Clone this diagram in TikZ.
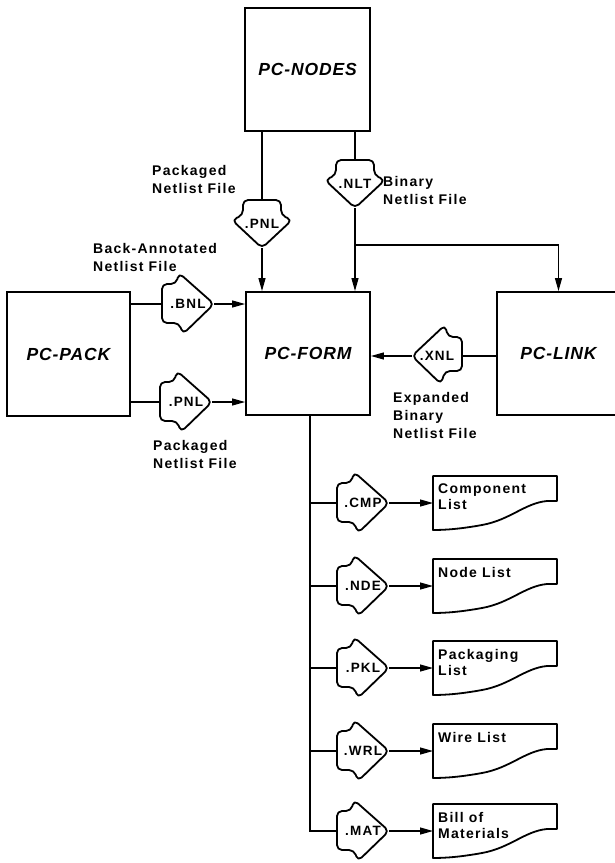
\documentclass[tikz,border=0pt]{standalone}
\usepackage{fontspec}
\newfontfamily\labfont{Liberation Sans}[LetterSpace=9]
\newfontfamily\titfont{Liberation Sans}[LetterSpace=5]
\usetikzlibrary{arrows.meta,calc}
\newcommand\fileright[3]{%
  \node[filebox,minimum width=52pt,minimum height=60pt] (#1) at (#2) {#3};
  \draw[fileline,shift={(#1.west)}] (0,-20) -- (14,-20) -- (17,-31) -- (52,0) -- (21,30) -- (17,19) -- (0,19) -- cycle;}
\newcommand\fileleft[3]{%
  \node[filebox,minimum width=50pt,minimum height=58pt] (#1) at (#2) {#3};
  \draw[fileline,shift={(#1.east)}] (0,-19) -- (-14,-19) -- (-17,-31) -- (-50,0) -- (-21,28) -- (-17,15) -- (0,15) -- cycle;}
\newcommand\filedown[3]{%
  \node[filebox,minimum width=60pt,minimum height=48pt] (#1) at (#2) {#3};
  \draw[fileline,shift={(#1.north)}] (-19,0) -- (19,0) -- (19,15) -- (30,20) -- (0,48) -- (-30,20) -- (-19,15) -- cycle;}
\newcommand\docfile[3]{%
  \node[docbox] (#1) at (#2) {};
  \draw[docline,shift={(#1.west)}] (0,-27) -- (124,-27) -- (124,-2) -- (114,-2) .. controls (92,0) and (77,17) .. (49,22) .. controls (27,26) and (12,27) .. (0,27) -- cycle;
  \node[doctext] (#1t) at ([shift={(5,-19)}]#1.west) {#3};}
\begin{document}
\begin{tikzpicture}[x=1pt,y=-1pt,
  prog/.style={draw,line width=1.8pt,inner sep=0pt,font=\titfont\bfseries\itshape\fontsize{17.5}{20}\selectfont},
  conn/.style={line width=1.2pt},
  arr/.style={conn,-{Triangle[length=13pt,width=7pt]}},
  filebox/.style={inner sep=0pt,outer sep=0pt,font=\labfont\bfseries\fontsize{13.5}{15}\selectfont},
  fileline/.style={line width=1.8pt,rounded corners=5pt,line join=round},
  docbox/.style={minimum width=124pt,minimum height=54pt,inner sep=0pt,outer sep=0pt},
  docline/.style={line width=1.8pt,line join=round},
  doctext/.style={anchor=north west,inner sep=0pt,align=left,font=\labfont\bfseries\fontsize{14}{16}\selectfont},
  lab/.style={anchor=west,inner sep=0pt,align=left,font=\labfont\bfseries\fontsize{14}{18}\selectfont}
]
\useasboundingbox (0,0) rectangle (614,863);
% program boxes
\node[prog,minimum width=125pt,minimum height=123pt] (nodes) at (307.5,69.5) {PC-NODES};
\node[prog,minimum width=124pt,minimum height=123pt] (form) at (308,353.5) {PC-FORM};
\node[prog,minimum width=123pt,minimum height=124pt] (pack) at (68.5,354) {PC-PACK};
\node[prog,minimum width=123pt,minimum height=123pt] (link) at (558.5,353.5) {PC-LINK};
% file symbols
\filedown{pnla}{262,224}{.PNL}
\filedown{nlt}{355,184}{.NLT}
\fileright{bnl}{188,304}{.BNL}
\fileright{pnlb}{186,402}{.PNL}
\fileleft{xnl}{437,356}{.XNL}
\fileright{cmp}{363,503}{.CMP}
\fileright{nde}{363,586}{.NDE}
\fileright{pkl}{363,668}{.PKL}
\fileright{wrl}{363,751}{.WRL}
\fileright{mat}{363,831}{.MAT}
% documents
\docfile{cmpd}{495,503}{Component\\List}
\docfile{nded}{495,586}{Node List}
\docfile{pkld}{495,668}{Packaging\\List}
\docfile{wrld}{495,751}{Wire List}
\docfile{matd}{495,831}{Bill of\\Materials}
% labels
\node[lab] (l1) at (152,179) {Packaged\\Netlist File};
\node[lab] (l2) at (383,190) {Binary\\Netlist File};
\node[lab] (l3) at (93,257) {Back-Annotated\\Netlist File};
\node[lab] (l4) at (153,454) {Packaged\\Netlist File};
\node[lab] (l5) at (393,415) {Expanded\\Binary\\Netlist File};
% connectors
\draw[conn] (nodes.south -| pnla) -- (pnla.north);
\draw[arr] (pnla.south) -- (pnla.south |- form.north);
\draw[conn] (nodes.south -| nlt) -- (nlt.north);
\draw[arr] (nlt.south) -- (nlt.south |- form.north);
\path (nlt.south) ++(0,37) coordinate (j);
\draw[arr] (j) -- (j -| link) -- (link.north);
\draw[conn] (pack.east |- bnl) -- (bnl.west);
\draw[arr] (bnl.east) -- (bnl -| form.west);
\draw[conn] (pack.east |- pnlb) -- (pnlb.west);
\draw[arr] (pnlb.east) -- (pnlb -| form.west);
\draw[conn] (link.west |- xnl) -- (xnl.east);
\draw[arr] (xnl.west) -- (xnl -| form.east);
\coordinate (tk) at ([xshift=2pt]form.south);
\draw[conn] (tk) |- (mat.west);
\foreach \f/\d in {cmp/cmpd,nde/nded,pkl/pkld,wrl/wrld,mat/matd}{
  \draw[conn] (tk |- \f) -- (\f.west);
  \draw[arr] (\f.east) -- (\d.west);
}
\end{tikzpicture}
\end{document}
